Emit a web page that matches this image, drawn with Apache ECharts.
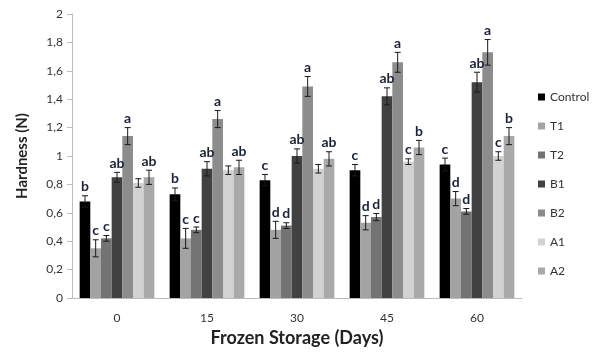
<!DOCTYPE html>
<html>
<head>
<meta charset="utf-8">
<script src="https://cdn.jsdelivr.net/npm/echarts@6/dist/echarts.min.js"></script>
<style>
  html, body { margin: 0; padding: 0; background: #fff; }
  #chart { width: 608px; height: 361px; }
</style>
</head>
<body>
<div id="chart"></div>
<script>
// dias de almacenamiento
const days = ['0', '15', '30', '45', '60'];
const seriesNames = ['Control', 'T1', 'T2', 'B1', 'B2', 'A1', 'A2'];
const colors = ['#000000', '#a3a3a3', '#737373', '#414141', '#8c8c8c', '#d2d2d2', '#a9a9a9'];

// valores medios
const control = [0.68, 0.73, 0.83, 0.90, 0.94];
const t1 = [0.35, 0.42, 0.48, 0.53, 0.70];
const t2 = [0.42, 0.48, 0.51, 0.57, 0.61];
const b1 = [0.85, 0.91, 1.00, 1.42, 1.52];
const b2 = [1.14, 1.26, 1.49, 1.66, 1.73];
const a1 = [0.81, 0.90, 0.91, 0.96, 1.00];
const a2 = [0.85, 0.92, 0.98, 1.06, 1.14];

// errores
const controlErr = [0.04, 0.045, 0.04, 0.04, 0.045];
const t1Err = [0.06, 0.07, 0.06, 0.05, 0.05];
const t2Err = [0.02, 0.02, 0.02, 0.025, 0.02];
const b1Err = [0.035, 0.05, 0.05, 0.06, 0.07];
const b2Err = [0.06, 0.06, 0.07, 0.07, 0.09];
const a1Err = [0.03, 0.03, 0.03, 0.02, 0.03];
const a2Err = [0.05, 0.05, 0.05, 0.05, 0.06];

// letras de significancia
const controlLetters = ['b', 'b', 'c', 'c', 'c'];
const t1Letters = ['c', 'c', 'd', 'd', 'd'];
const t2Letters = ['c', 'c', 'd', 'd', 'd'];
const b1Letters = ['ab', 'ab', 'ab', 'ab', 'ab'];
const b2Letters = ['a', 'a', 'a', 'a', 'a'];
const a1Letters = ['', '', '', 'c', 'c'];
const a2Letters = ['ab', 'ab', 'ab', 'b', 'b'];

const yTicks = { min: 0, max: 2, interval: 0.2 };

const values = [control, t1, t2, b1, b2, a1, a2];
const errors = [controlErr, t1Err, t2Err, b1Err, b2Err, a1Err, a2Err];
const letters = [controlLetters, t1Letters, t2Letters, b1Letters, b2Letters, a1Letters, a2Letters];

const catGap = 0.17;

let chart = echarts.init(document.getElementById('chart'));

let series = seriesNames.map((name, i) => ({
    name: name,
    type: 'bar',
    data: values[i],
    barGap: '0%',
    barCategoryGap: (catGap * 100) + '%',
    itemStyle: { color: colors[i] }
}));

// barras de error + letras
let errData = [];
values.forEach((vals, s) => {
    vals.forEach((v, c) => {
        errData.push([c, s, v, errors[s][c], letters[s][c]]);
    });
});

series.push({
    type: 'custom',
    name: 'err',
    data: errData,
    encode: { x: 0, y: 2 },
    z: 10,
    renderItem: function (params, api) {
        const c = api.value(0);
        const s = api.value(1);
        const v = api.value(2);
        const e = api.value(3);
        const letter = errData[params.dataIndex][4];
        const band = api.size([1, 0])[0];
        const groupW = band * (1 - catGap);
        const barW = groupW / seriesNames.length;
        const center = api.coord([c, v]);
        const x = center[0] - groupW / 2 + barW * (s + 0.5);
        const top = api.coord([c, v + e])[1];
        const bot = api.coord([c, v - e])[1];
        const cap = 3;
        const st = { stroke: '#1a1a1a', lineWidth: 1 };
        let children = [
            { type: 'line', shape: { x1: x, y1: top, x2: x, y2: bot }, style: st },
            { type: 'line', shape: { x1: x - cap, y1: top, x2: x + cap, y2: top }, style: st },
            { type: 'line', shape: { x1: x - cap, y1: bot, x2: x + cap, y2: bot }, style: st }
        ];
        if (letter) {
            children.push({
                type: 'text',
                style: {
                    text: letter,
                    x: x,
                    y: top - 2,
                    align: 'center',
                    verticalAlign: 'bottom',
                    fill: '#1c2238',
                    font: 'bold 14px Lato, "Open Sans", sans-serif'
                }
            });
        }
        return { type: 'group', children: children };
    }
});

chart.setOption({
    animation: false,
    textStyle: { fontFamily: 'Lato, "Open Sans", sans-serif' },
    grid: { left: 72, right: 86, top: 14, bottom: 63 },
    legend: {
        data: seriesNames,
        orient: 'vertical',
        left: 533,
        top: 86,
        itemWidth: 7,
        itemHeight: 7,
        itemGap: 17,
        icon: 'rect',
        textStyle: { color: '#333', fontSize: 12 }
    },
    xAxis: {
        type: 'category',
        data: days,
        name: 'Frozen Storage (Days)',
        nameLocation: 'middle',
        nameGap: 31,
        nameTextStyle: { fontSize: 18, fontWeight: 'bold', color: '#222' },
        axisLine: { lineStyle: { color: '#bdbdbd' } },
        axisTick: { show: false },
        axisLabel: { color: '#333', fontSize: 12, margin: 14 }
    },
    yAxis: {
        type: 'value',
        min: yTicks.min,
        max: yTicks.max,
        interval: yTicks.interval,
        name: 'Hardness (N)',
        nameLocation: 'middle',
        nameGap: 42,
        nameTextStyle: { fontSize: 15, fontWeight: 'bold', color: '#222' },
        splitLine: { show: false },
        axisLine: { show: true, lineStyle: { color: '#bdbdbd' } },
        axisTick: { show: true, length: 5, lineStyle: { color: '#bdbdbd' } },
        axisLabel: {
            color: '#333',
            fontSize: 12,
            margin: 9,
            formatter: function (val) {
                return String(Math.round(val * 10) / 10).replace('.', ',');
            }
        }
    },
    series: series
});

window.addEventListener('resize', () => {
    chart.resize();
});
</script>
</body>
</html>
